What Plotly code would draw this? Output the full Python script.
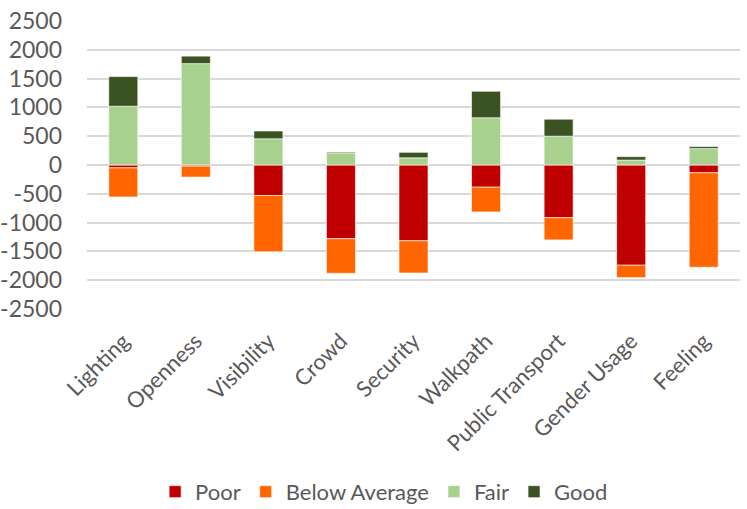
import plotly.graph_objects as go

categories = ["Lighting", "Openness", "Visibility", "Crowd", "Security",
              "Walkpath", "Public Transport", "Gender Usage", "Feeling"]
poor = [-50, -20, -530, -1280, -1315, -385, -915, -1740, -135]
below_average = [-505, -190, -975, -600, -560, -430, -385, -215, -1640]
fair = [1020, 1760, 455, 210, 125, 820, 500, 85, 285]
good = [515, 130, 135, 15, 95, 460, 295, 60, 35]

y_ticks = [2500, 2000, 1500, 1000, 500, 0, -500, -1000, -1500, -2000, -2500]

series = [
    ("Poor", poor, "#C00000"),
    ("Below Average", below_average, "#FF6600"),
    ("Fair", fair, "#A9D18E"),
    ("Good", good, "#3B5323"),
]

fig = go.Figure()
for name, vals, color in series:
    fig.add_trace(go.Bar(
        x=categories, y=vals, name=name,
        marker=dict(color=color, line=dict(color="rgba(255,255,255,0.6)", width=1)),
    ))

font_family = "Lato, Calibri, sans-serif"
fig.update_layout(
    barmode="relative",
    bargap=0.6,
    width=747, height=509,
    margin=dict(l=87, r=7, t=21, b=200, autoexpand=False),
    plot_bgcolor="white", paper_bgcolor="white",
    font=dict(family=font_family, size=22, color="#595959"),
    showlegend=True,
    legend=dict(orientation="h", x=0.455, xanchor="center", y=-0.635, yanchor="middle",
                font=dict(size=22, color="#595959"), traceorder="normal",
                itemwidth=30),
    xaxis=dict(tickangle=-45, tickfont=dict(size=22, color="#595959"),
               showline=False, ticks="", automargin=False, ticklabelstandoff=14),
    yaxis=dict(range=[-2500, 2500], tickvals=y_ticks, ticktext=[str(v) for v in y_ticks],
               showgrid=True, gridcolor="#D9D9D9", gridwidth=1.5,
               zeroline=True, zerolinecolor="#D9D9D9", zerolinewidth=1.5,
               tickfont=dict(size=23, color="#595959"), ticks="", automargin=False,
               ticklabelstandoff=24),
)

fig.write_html("out.html",
               config={"displayModeBar": False},
               post_script="document.body.style.margin='0';document.body.style.padding='0';")
